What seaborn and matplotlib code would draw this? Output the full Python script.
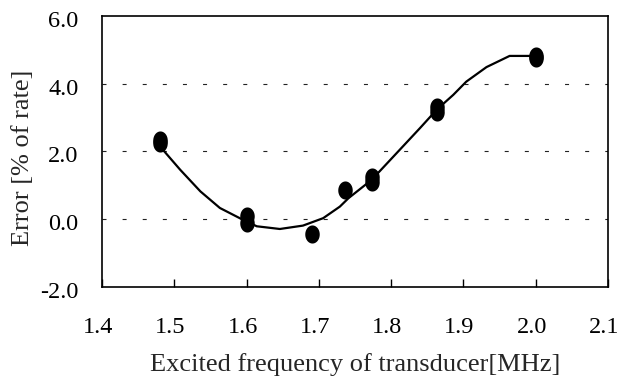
import numpy as np
import pandas as pd
import matplotlib
matplotlib.use("Agg")
import matplotlib.pyplot as plt
from matplotlib.path import Path
import matplotlib.transforms as mtransforms
import seaborn as sns

# Measured points
freq = [1.48, 1.48, 1.60, 1.60, 1.69, 1.736, 1.773, 1.773, 1.864, 1.864, 2.00, 2.00]
error = [2.35, 2.25, 0.08, -0.10, -0.43, 0.87, 1.25, 1.10, 3.30, 3.15, 4.82, 4.76]

# Smoothed trend curve
curve_x = [1.480, 1.508, 1.536, 1.563, 1.595, 1.614, 1.646, 1.678, 1.706, 1.729,
           1.741, 1.773, 1.812, 1.840, 1.863, 1.886, 1.904, 1.932, 1.964, 1.999]
curve_y = [2.15, 1.46, 0.82, 0.33, -0.02, -0.21, -0.29, -0.19, 0.03, 0.37,
           0.62, 1.16, 2.05, 2.69, 3.23, 3.67, 4.06, 4.49, 4.82, 4.82]

x_ticks = [1.4, 1.5, 1.6, 1.7, 1.8, 1.9, 2.0, 2.1]
y_ticks = [-2.0, 0.0, 2.0, 4.0, 6.0]

sns.set_style("white")
plt.rcParams['font.family'] = ['Liberation Serif', 'DejaVu Serif']

fig = plt.figure(figsize=(6.19, 3.80), dpi=100)
ax = fig.add_axes([0.165, 0.245, 0.817, 0.713])

# dashed grid lines
for yv in y_ticks[1:-1]:
    ax.axhline(yv, color='#222222', lw=0.8, linestyle=(0, (3.6, 14.5)), zorder=1)

pts = pd.DataFrame({'freq': freq, 'error': error})
cur = pd.DataFrame({'x': curve_x, 'y': curve_y})

sns.lineplot(data=cur, x='x', y='y', sort=False, color='black', lw=1.6, ax=ax, zorder=3)

t = np.linspace(0, 2 * np.pi, 40)
ell = Path(np.column_stack([0.8 * np.cos(t), np.sin(t)]), closed=True)
sns.scatterplot(data=pts, x='freq', y='error', marker=ell, s=170, color='black',
                edgecolor='black', linewidth=0, ax=ax, zorder=4)

ax.set_xlim(1.4, 2.1)
ax.set_ylim(-2.0, 6.0)
ax.set_xticks(x_ticks)
ax.set_xticklabels([f"{v:.1f}" for v in x_ticks])
ax.set_yticks(y_ticks)
ax.set_yticklabels([f"{v:.1f}" for v in y_ticks])

for sp in ax.spines.values():
    sp.set_visible(True)
    sp.set_color('black')
    sp.set_linewidth(1.2)

ax.tick_params(axis='x', direction='in', length=6, width=1.0, pad=22,
               labelsize=17.5, colors='black', top=False, bottom=True)
ax.tick_params(axis='y', length=0, pad=17, labelsize=17.5, colors='black')

# small offsets like the reference rendering
xoff = mtransforms.ScaledTranslation(-4 / 100, 0, fig.dpi_scale_trans)
for lab in ax.get_xticklabels():
    lab.set_transform(lab.get_transform() + xoff)
yoff = mtransforms.ScaledTranslation(0, -3 / 100, fig.dpi_scale_trans)
for lab in ax.get_yticklabels():
    lab.set_transform(lab.get_transform() + yoff)

ax.set_xlabel("Excited frequency of transducer[MHz]", fontsize=19, labelpad=10.5)
ax.set_ylabel("Error [% of rate]", fontsize=19)
ax.yaxis.set_label_coords(-0.134, 0.478)

fig.savefig("out.png", dpi=100)
